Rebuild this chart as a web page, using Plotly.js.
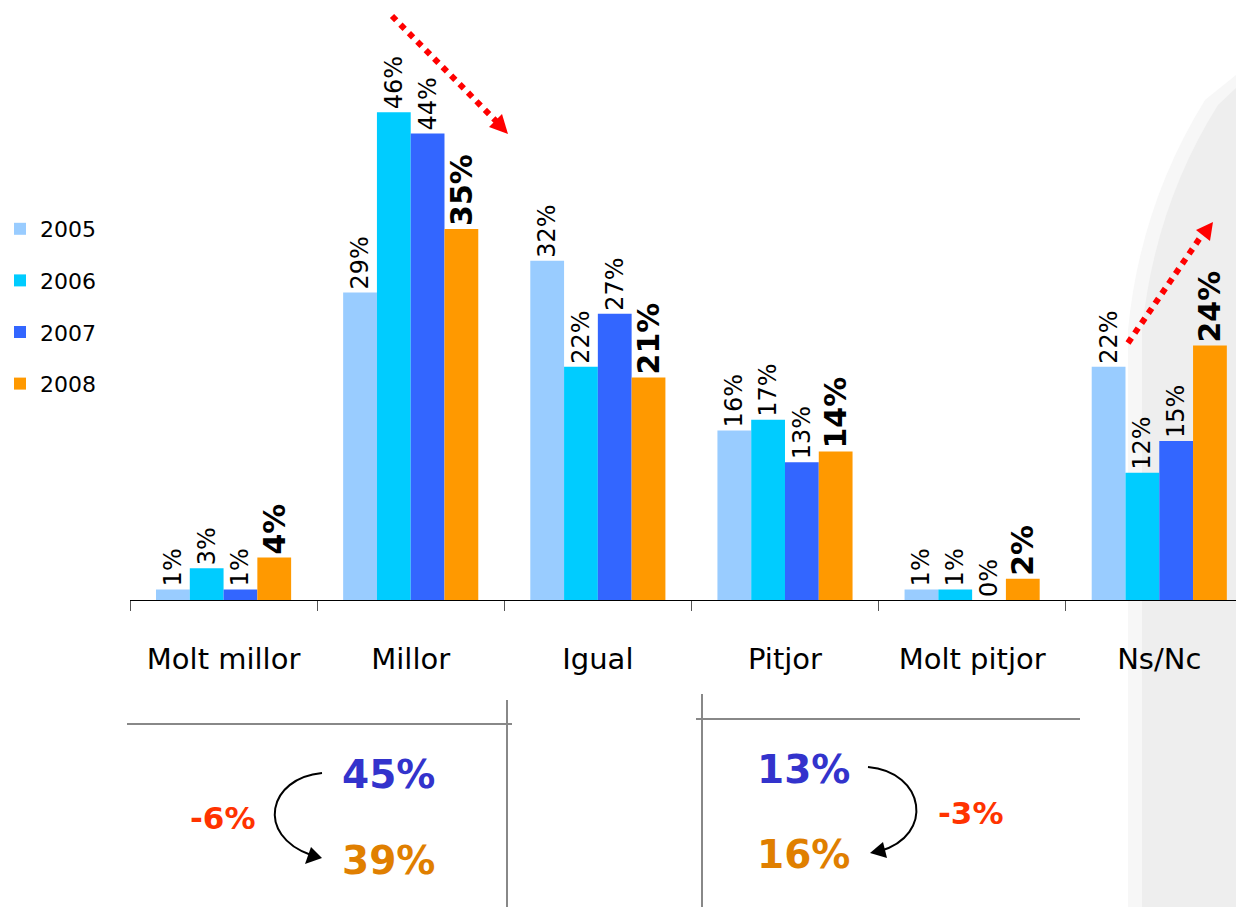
<!DOCTYPE html>
<html><head><meta charset="utf-8">
<script src="https://cdn.plot.ly/plotly-3.0.1.min.js"></script>
<style>html,body{margin:0;padding:0;background:#fff}#chart{width:1236px;height:907px}</style>
</head><body><div id="chart"></div>
<script>
const categories = ["Molt millor", "Millor", "Igual", "Pitjor", "Molt pitjor", "Ns/Nc"];
const years = ["2005", "2006", "2007", "2008"];
const v2005 = [1, 29, 32, 16, 1, 22];
const v2006 = [3, 46, 22, 17, 1, 12];
const v2007 = [1, 44, 27, 13, 0, 15];
const v2008 = [4, 35, 21, 14, 2, 24];
const colors = ["#99ccff", "#00ccff", "#3366ff", "#ff9900"];
const summary = {posBefore: "45%", posAfter: "39%", posDiff: "-6%", negBefore: "13%", negAfter: "16%", negDiff: "-3%"};

const FONT = "DejaVu Sans";
const series = [v2005, v2006, v2007, v2008];
const L = 130, W = 1106, T = 0, H = 600;
const X = px => (px - L) / W;
const Y = py => (H - py) / H;
const P = (x, y) => X(x).toFixed(5) + "," + Y(y).toFixed(5);

const traces = series.map((vals, i) => ({
  type: "bar", name: years[i], x: categories, y: vals,
  marker: {color: colors[i]},
  texttemplate: "%{y}%", textposition: "outside", textangle: -90,
  constraintext: "none", cliponaxis: false,
  textfont: i === 3 ? {family: FONT, size: 30, color: "#000", weight: "bold"} : {family: FONT, size: 24, color: "#000"},
  legendgroup: "g" + i, hoverinfo: "skip"
}));

const shapes = [
  // grey background on the right
  {type: "path", xref: "paper", yref: "paper", layer: "below", line: {width: 0}, fillcolor: "#f7f7f7",
   path: "M " + P(1236, 75) + " L " + P(1205, 100) + " Q " + P(1140, 205) + " " + P(1128, 330) + " L " + P(1128, 907) + " L " + P(1236, 907) + " Z"},
  {type: "path", xref: "paper", yref: "paper", layer: "below", line: {width: 0}, fillcolor: "#eeeeee",
   path: "M " + P(1236, 88) + " L " + P(1218, 105) + " Q " + P(1155, 205) + " " + P(1142, 330) + " L " + P(1142, 907) + " L " + P(1236, 907) + " Z"},
  // red dotted arrows
  {type: "line", xref: "paper", yref: "paper", x0: X(392), y0: Y(16), x1: X(497), y1: Y(122), line: {color: "#ff0000", width: 6, dash: "dot"}},
  {type: "path", xref: "paper", yref: "paper", fillcolor: "#ff0000", line: {width: 0},
   path: "M " + P(508, 134) + " L " + P(489, 127) + " L " + P(502, 114) + " Z"},
  {type: "line", xref: "paper", yref: "paper", x0: X(1128), y0: Y(343), x1: X(1202), y1: Y(235), line: {color: "#ff0000", width: 6, dash: "dot"}},
  {type: "path", xref: "paper", yref: "paper", fillcolor: "#ff0000", line: {width: 0},
   path: "M " + P(1213, 222) + " L " + P(1196, 230) + " L " + P(1210, 241) + " Z"},
  // bottom frame lines
  {type: "line", xref: "paper", yref: "paper", x0: X(127), y0: Y(724), x1: X(512), y1: Y(724), line: {color: "#888888", width: 2}},
  {type: "line", xref: "paper", yref: "paper", x0: X(507), y0: Y(700), x1: X(507), y1: Y(907), line: {color: "#888888", width: 2}},
  {type: "line", xref: "paper", yref: "paper", x0: X(696), y0: Y(719), x1: X(1080), y1: Y(719), line: {color: "#888888", width: 2}},
  {type: "line", xref: "paper", yref: "paper", x0: X(702), y0: Y(694), x1: X(702), y1: Y(907), line: {color: "#888888", width: 2}},
  // curved arrows
  {type: "path", xref: "paper", yref: "paper", line: {color: "#000", width: 2},
   path: "M " + P(322, 773) + " C " + P(268, 778) + " " + P(255, 835) + " " + P(311, 855)},
  {type: "path", xref: "paper", yref: "paper", fillcolor: "#000", line: {width: 0},
   path: "M " + P(322, 858) + " L " + P(311, 847) + " L " + P(305, 864) + " Z"},
  {type: "path", xref: "paper", yref: "paper", line: {color: "#000", width: 2},
   path: "M " + P(868, 767) + " C " + P(925, 772) + " " + P(935, 835) + " " + P(880, 851)},
  {type: "path", xref: "paper", yref: "paper", fillcolor: "#000", line: {width: 0},
   path: "M " + P(870, 853) + " L " + P(883, 842) + " L " + P(887, 858) + " Z"}
];

const ann = (txt, x, y, color, size) => ({text: txt, xref: "paper", yref: "paper", x: X(x), y: Y(y),
  xanchor: "center", yanchor: "middle", showarrow: false, font: {family: FONT, size: size, color: color, weight: "bold"}});
const annotations = [
  ann(summary.posBefore, 388, 774, "#3333cc", 39),
  ann(summary.posAfter, 388, 860, "#e07f00", 39),
  ann(summary.posDiff, 223, 818, "#ff3300", 31),
  ann(summary.negBefore, 803, 769, "#3333cc", 39),
  ann(summary.negAfter, 803, 854, "#e07f00", 39),
  ann(summary.negDiff, 971, 813, "#ff3300", 31)
];

const layout = {
  width: 1236, height: 907,
  margin: {l: L, r: 0, t: T, b: 907 - H, pad: 0},
  paper_bgcolor: "#ffffff", plot_bgcolor: "rgba(0,0,0,0)",
  barmode: "group", bargap: 0.278, bargroupgap: 0,
  font: {family: FONT, color: "#000"},
  xaxis: {range: [-0.5, 5.41], showline: true, linecolor: "#000", linewidth: 1,
    ticks: "outside", tickson: "boundaries", ticklen: 10, tickcolor: "#555", tickwidth: 1,
    tickfont: {family: FONT, size: 29, color: "#000"}, ticklabelstandoff: 33, showgrid: false, zeroline: false, fixedrange: true},
  yaxis: {range: [0, 56.6], visible: false, showgrid: false, zeroline: false, fixedrange: true},
  showlegend: true,
  legend: {x: X(0), xanchor: "left", y: Y(208), yanchor: "top", traceorder: "grouped", tracegroupgap: 20,
    font: {family: FONT, size: 22, color: "#000"}, bgcolor: "rgba(0,0,0,0)", itemwidth: 30},
  shapes: shapes, annotations: annotations
};

Plotly.newPlot("chart", traces, layout, {displayModeBar: false, staticPlot: true});
</script></body></html>
